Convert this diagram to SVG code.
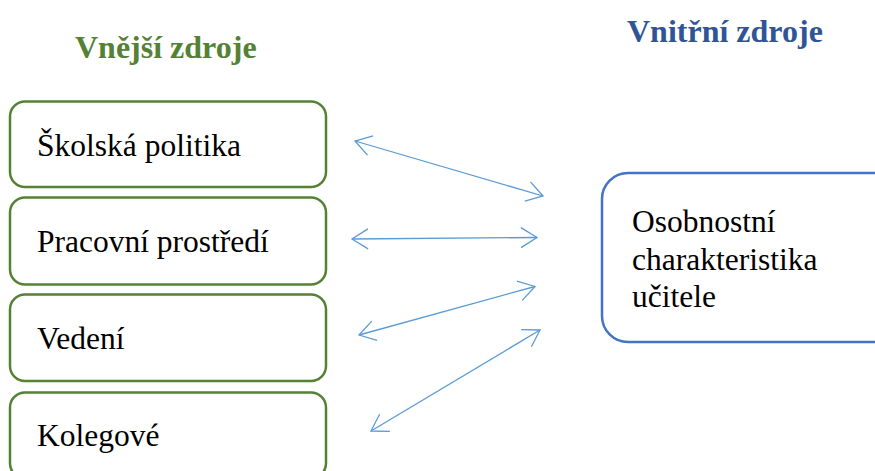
<svg xmlns="http://www.w3.org/2000/svg" width="875" height="471" viewBox="0 0 875 471">
<style>
.t{font-family:"Liberation Serif","Times New Roman",serif;font-size:31.5px;fill:#000}
.h{font-family:"Liberation Serif","Times New Roman",serif;font-size:32px;font-weight:bold}
.gb{fill:#fff;stroke:#548235;stroke-width:2.5}
.bb{fill:#fff;stroke:#4472C4;stroke-width:2.5}
.c{stroke:#5B9BD5;stroke-width:1.3;fill:none;marker-start:url(#ah);marker-end:url(#ah)}
</style>
<defs>
<marker id="ah" markerUnits="userSpaceOnUse" markerWidth="40" markerHeight="40" viewBox="-20 -20 40 40" refX="0" refY="0" orient="auto-start-reverse">
<path d="M-16,-10 L0,0 L-16,10" fill="none" stroke="#5B9BD5" stroke-width="1.3"/>
</marker>
</defs>
<rect width="875" height="471" fill="#fff"/>
<text class="h" x="75" y="58" fill="#548235">Vnější zdroje</text>
<text class="h" x="627" y="42" fill="#2F5597">Vnitřní zdroje</text>
<g id="n1"><rect class="gb" x="10" y="101.5" width="316" height="85.5" rx="15"/><text class="t" x="37" y="156">Školská politika</text></g>
<g id="n2"><rect class="gb" x="10" y="197.5" width="316" height="87" rx="15"/><text class="t" x="37" y="252">Pracovní prostředí</text></g>
<g id="n3"><rect class="gb" x="10" y="294.5" width="316" height="86.5" rx="15"/><text class="t" x="37" y="349">Vedení</text></g>
<g id="n4"><rect class="gb" x="10" y="392.5" width="316" height="86" rx="15"/><text class="t" x="37" y="446">Kolegové</text></g>
<g id="n5"><rect class="bb" x="602" y="173" width="300" height="169" rx="26"/><text class="t" x="632" y="232">Osobnostní</text><text class="t" x="632" y="270">charakteristika</text><text class="t" x="632" y="307">učitele</text></g>
<g id="connectors">
<line class="c" x1="355" y1="141" x2="543" y2="196"/>
<line class="c" x1="352" y1="239" x2="537" y2="237.5"/>
<line class="c" x1="359" y1="335" x2="535" y2="286.5"/>
<line class="c" x1="371" y1="431" x2="540" y2="330"/>
</g>
</svg>
